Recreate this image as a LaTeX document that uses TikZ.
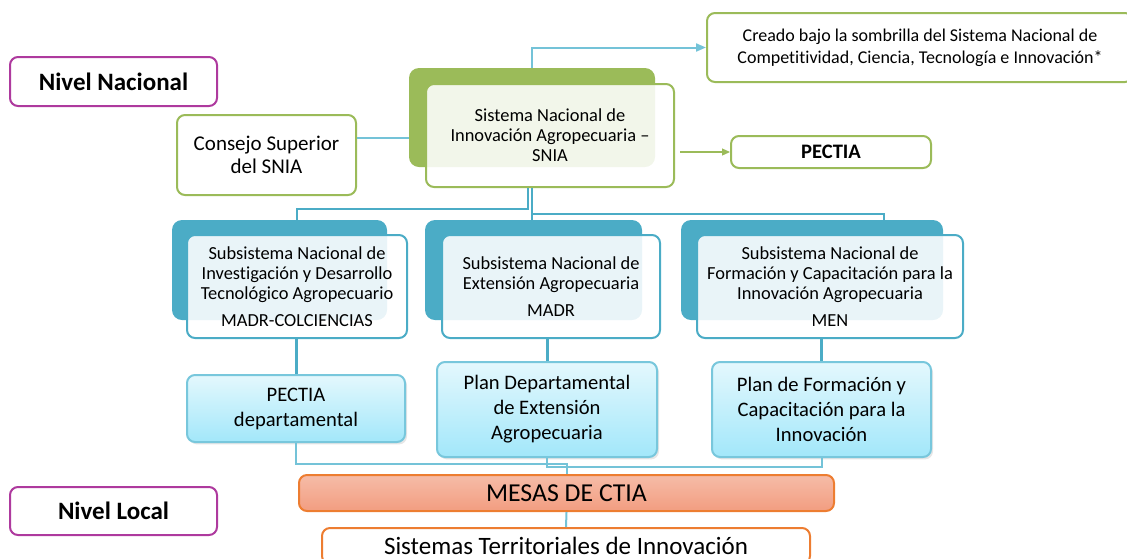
\documentclass[tikz,border=0pt]{standalone}
\usepackage{fontspec}
\setmainfont{Carlito}[Ligatures=NoCommon]
\usepackage{xcolor}
\usepackage{tikz}
\usetikzlibrary{arrows.meta,shadows}

\definecolor{sniagreen}{HTML}{9BBB59}
\definecolor{subteal}{HTML}{4BACC6}
\definecolor{linkblue}{HTML}{74C3D8}
\definecolor{levelmag}{HTML}{AE3A9E}
\definecolor{mesaedge}{HTML}{ED7D31}
\definecolor{mesatop}{HTML}{F6BCA8}
\definecolor{mesabot}{HTML}{F29D80}
\definecolor{plantop}{HTML}{E4F8FD}
\definecolor{planbot}{HTML}{A2E7FA}
\definecolor{planedge}{HTML}{78C7DC}

\tikzset{
  box/.style={rounded corners=4pt, inner sep=0pt, align=center, line width=1pt},
  levelbox/.style={box, draw=levelmag, fill=white, font=\fontsize{12.5}{14}\selectfont\bfseries},
  greenbox/.style={box, draw=sniagreen, fill=white},
  backtab/.style={rounded corners=5pt, inner sep=0pt},
  frontbox/.style={box, fill=white, fill opacity=0.88, text opacity=1},
  subbox/.style={frontbox, draw=subteal, font=\fontsize{9.2}{10}\selectfont},
  planbox/.style={box, draw=planedge, top color=plantop, bottom color=planbot,
    drop shadow={shadow xshift=1pt, shadow yshift=-1.2pt, opacity=0.2},
    font=\fontsize{10.3}{12.5}\selectfont},
  link/.style={linkblue, line width=1pt},
  tree/.style={subteal, line width=1pt},
  stem/.style={subteal, line width=1.5pt},
}

\begin{document}
\begin{tikzpicture}[x=0.5pt,y=-0.5pt]
\useasboundingbox (0,0) rectangle (1127,558);

% Levels
\node[levelbox, minimum width=103.5pt, minimum height=24.5pt] (nacional) at (113.5,81.5) {Nivel Nacional};
\node[levelbox, minimum width=103.5pt, minimum height=24pt] (local) at (113.5,511) {Nivel Local};

% National system
\node[backtab, fill=sniagreen, minimum width=123pt, minimum height=49.5pt] (sniaBack) at (532,117.5) {};
\node[frontbox, draw=sniagreen, minimum width=124pt, minimum height=51.5pt, font=\fontsize{9.2}{10}\selectfont]
  (snia) at (550,135.5) {Sistema Nacional de\\Innovación Agropecuaria --\\SNIA};
\node[greenbox, minimum width=89.5pt, minimum height=40pt, font=\fontsize{10.5}{11.5}\selectfont]
  (consejo) at (266.5,155) {Consejo Superior\\del SNIA};
\node[greenbox, minimum width=213pt, minimum height=34.5pt, font=\fontsize{9}{11}\selectfont]
  (creado) at (920,47.5) {Creado bajo la sombrilla del Sistema Nacional de\\Competitividad, Ciencia, Tecnología e Innovación*};
\node[greenbox, minimum width=100pt, minimum height=16pt, font=\fontsize{10.3}{12}\selectfont\bfseries]
  (pectia) at (831,152) {PECTIA};

\draw[link] ([yshift=8.5pt]consejo.east) -- ([yshift=8.5pt]consejo.east -| sniaBack.west);
\draw[link, -{Triangle[length=5pt,width=4pt]}] (sniaBack.north) |- (creado.west);
\draw[sniagreen, line width=0.6pt, -{Triangle[length=4pt,width=3.5pt]}] ([xshift=2.5pt]snia.east |- pectia.west) -- (pectia.west);

% Subsystems
\node[backtab, fill=subteal, minimum width=107.5pt, minimum height=50pt] (subInvBack) at (279.5,270) {};
\node[backtab, fill=subteal, minimum width=108.5pt, minimum height=50pt] (subExtBack) at (533.5,270) {};
\node[backtab, fill=subteal, minimum width=131pt, minimum height=50pt] (subForBack) at (812,270) {};
\node[subbox, minimum width=110pt, minimum height=51.5pt] (subInv) at (297,286.5)
  {Subsistema Nacional de\\Investigación y Desarrollo\\Tecnológico Agropecuario\\[3.5pt]MADR-COLCIENCIAS};
\node[subbox, minimum width=109pt, minimum height=51.5pt] (subExt) at (551,286.5)
  {Subsistema Nacional de\\Extensión Agropecuaria\\[3.5pt]MADR};
\node[subbox, minimum width=133pt, minimum height=51.5pt] (subFor) at (830,286.5)
  {Subsistema Nacional de\\Formación y Capacitación para la\\Innovación Agropecuaria\\[3.5pt]MEN};

\draw[tree] ([xshift=-2pt]sniaBack.north |- snia.south) -- ++(0,21) -| (subInv.north |- subInvBack.north);
\draw[tree] (sniaBack.north |- snia.south) -- ++(0,26) -| ([xshift=27pt]subFor.north |- subForBack.north);
\draw[tree] (sniaBack.north |- snia.south) -- (sniaBack.north |- subExtBack.north);

% Plans
\node[planbox, minimum width=109pt, minimum height=33.5pt] (planInv) at (296,408.5) {PECTIA\\departamental};
\node[planbox, minimum width=110pt, minimum height=47.5pt] (planExt) at (547,409.5) {Plan Departamental\\de Extensión\\Agropecuaria};
\node[planbox, minimum width=109.5pt, minimum height=47.5pt] (planFor) at (821.5,409.5) {Plan de Formación y\\Capacitación para la\\Innovación};

\draw[stem] (planInv.north) -- (planInv.north |- subInv.south);
\draw[stem] (planExt.north) -- (planExt.north |- subExt.south);
\draw[stem] (planFor.north) -- (planFor.north |- subFor.south);

% Local level
\node[box, draw=mesaedge, top color=mesatop, bottom color=mesabot, minimum width=267.5pt, minimum height=18pt,
  font=\fontsize{12.9}{14}\selectfont] (mesas) at (566.5,493) {MESAS DE CTIA};
\node[box, draw=mesaedge, fill=white, minimum width=244pt, minimum height=18pt,
  font=\fontsize{12.5}{14}\selectfont] (territorial) at (566,546) {Sistemas Territoriales de Innovación};

\draw[link] (planInv.south) -- ++(0,21) -| (mesas.north);
\draw[link] (planExt.south) -- ++(0,9) -| (planFor.south);
\draw[link] (mesas.south) -- (territorial.north);
\end{tikzpicture}
\end{document}
